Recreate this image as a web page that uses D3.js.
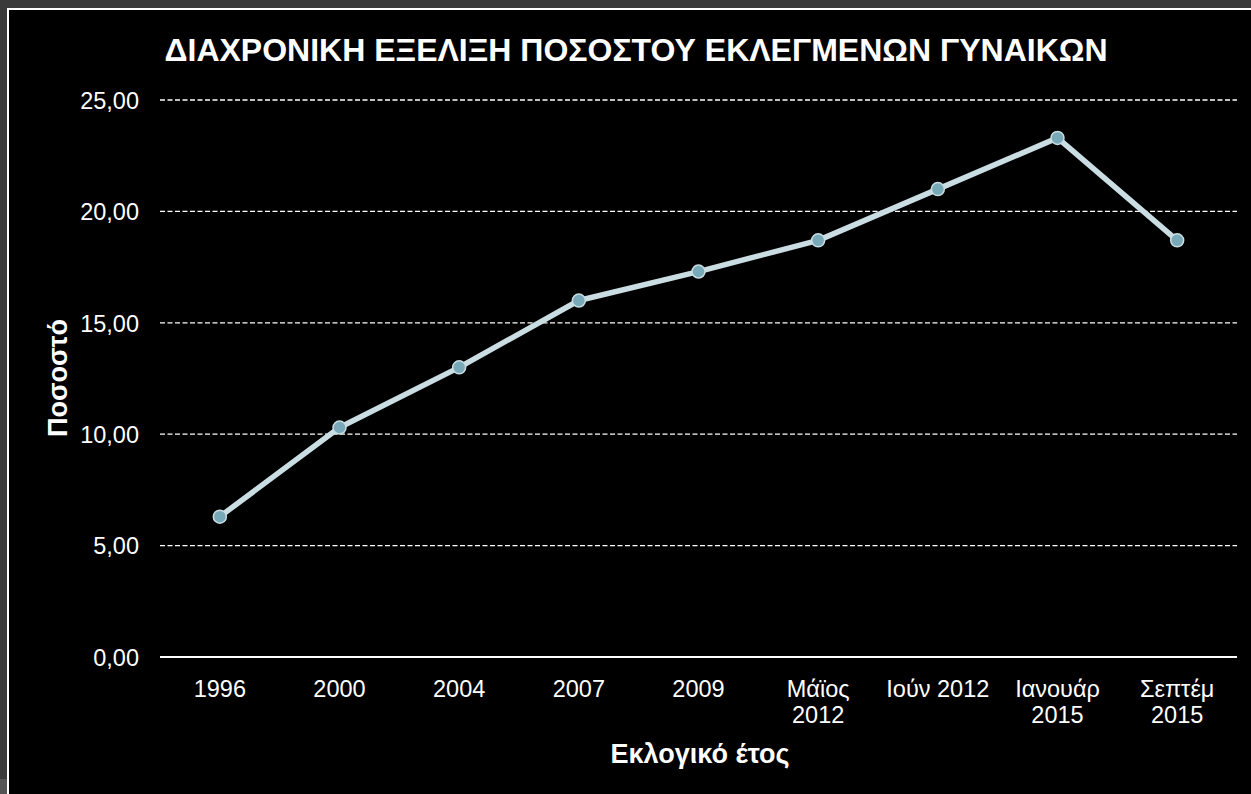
<!DOCTYPE html>
<html>
<head>
<meta charset="utf-8">
<script src="https://cdn.jsdelivr.net/npm/d3@7/dist/d3.min.js"></script>
<style>
  html, body { margin: 0; padding: 0; background: #3a3a3a; }
  svg { display: block; }
</style>
</head>
<body>
<svg id="chart" width="1251" height="794"></svg>
<script>
// Election years (labels may wrap onto two lines)
const categories = ["1996", "2000", "2004", "2007", "2009", "Μάϊος 2012", "Ιούν 2012", "Ιανουάρ 2015", "Σεπτέμ 2015"];
const categoryLines = [["1996"], ["2000"], ["2004"], ["2007"], ["2009"], ["Μάϊος", "2012"], ["Ιούν 2012"], ["Ιανουάρ", "2015"], ["Σεπτέμ", "2015"]];
// Share of elected women (%)
const values = [6.3, 10.3, 13.0, 16.0, 17.3, 18.7, 21.0, 23.3, 18.7];
const yTicks = [0, 5, 10, 15, 20, 25];

const titleText = "ΔΙΑΧΡΟΝΙΚΗ ΕΞΕΛΙΞΗ ΠΟΣΟΣΤΟΥ ΕΚΛΕΓΜΕΝΩΝ ΓΥΝΑΙΚΩΝ";
const xTitle = "Εκλογικό έτος";
const yTitle = "Ποσοστό";

const svg = d3.select("#chart");
const W = 1251, H = 794;
const font = "'Liberation Sans', Arial, sans-serif";

// outer frame: grey surround, light strip at lower left, white border, black panel
svg.append("rect").attr("x", 0).attr("y", 0).attr("width", W).attr("height", H).attr("fill", "#3a3a3a");
svg.append("rect").attr("x", 0).attr("y", 779).attr("width", 8).attr("height", 15).attr("fill", "#555");
svg.append("rect").attr("x", 7).attr("y", 8).attr("width", W).attr("height", H).attr("fill", "#fff");
svg.append("rect").attr("x", 9).attr("y", 10).attr("width", W).attr("height", H).attr("fill", "#000");

const plotLeft = 160, plotRight = 1237, plotTop = 100, plotBottom = 657;

const x = d3.scaleBand().domain(categories).range([plotLeft, plotRight]).padding(0);
const y = d3.scaleLinear().domain([0, 25]).range([plotBottom, plotTop]);
const fmt = v => d3.format(".2f")(v).replace(".", ",");
const cx = d => x(d) + x.bandwidth() / 2;

// horizontal gridlines (dashed)
svg.append("g")
  .selectAll("line")
  .data(yTicks.filter(d => d > 0))
  .join("line")
  .attr("x1", plotLeft).attr("x2", plotRight)
  .attr("y1", d => y(d)).attr("y2", d => y(d))
  .attr("stroke", "#fff").attr("stroke-width", 1.3)
  .attr("stroke-dasharray", "5,2.5");

// y axis labels
const yAxis = d3.axisLeft(y).tickValues(yTicks).tickFormat(fmt).tickSize(0).tickPadding(0);
const gy = svg.append("g").attr("transform", `translate(${plotLeft - 21},0)`).call(yAxis);
gy.select(".domain").remove();
gy.selectAll("text")
  .attr("fill", "#fff")
  .attr("font-family", font)
  .attr("font-size", 23.5)
  .attr("dy", "0.35em");

// x axis baseline
const xAxis = d3.axisBottom(x).tickSize(0).tickFormat("");
const gx = svg.append("g").attr("transform", `translate(0,${plotBottom})`).call(xAxis);
gx.select(".domain").attr("stroke", "#fff").attr("stroke-width", 2).attr("d", `M${plotLeft},0H${plotRight}`);

// category labels
const labels = svg.append("g")
  .selectAll("text")
  .data(categories)
  .join("text")
  .attr("x", d => cx(d))
  .attr("y", 697)
  .attr("text-anchor", "middle")
  .attr("fill", "#fff")
  .attr("font-family", font)
  .attr("font-size", 23.5);
labels.each(function(d, i) {
  const t = d3.select(this);
  categoryLines[i].forEach((ln, j) => {
    t.append("tspan")
      .attr("x", cx(d))
      .attr("dy", j === 0 ? 0 : 26)
      .text(ln);
  });
});

// series line
const line = d3.line()
  .x((d, i) => cx(categories[i]))
  .y(d => y(d));
svg.append("path")
  .datum(values)
  .attr("d", line)
  .attr("fill", "none")
  .attr("stroke", "#c9dde2")
  .attr("stroke-width", 5.5)
  .attr("stroke-linejoin", "round");

// markers
svg.append("g")
  .selectAll("circle")
  .data(values)
  .join("circle")
  .attr("cx", (d, i) => cx(categories[i]))
  .attr("cy", d => y(d))
  .attr("r", 6.5)
  .attr("fill", "#78a9b8")
  .attr("stroke", "#c9dde2")
  .attr("stroke-width", 1.5);

// title
svg.append("text")
  .attr("x", 636).attr("y", 61)
  .attr("text-anchor", "middle")
  .attr("fill", "#fff")
  .attr("font-family", font)
  .attr("font-weight", "bold")
  .attr("font-size", 32)
  .text(titleText);

// axis titles
svg.append("text")
  .attr("x", 700).attr("y", 763)
  .attr("text-anchor", "middle")
  .attr("fill", "#fff")
  .attr("font-family", font)
  .attr("font-weight", "bold")
  .attr("font-size", 27)
  .text(xTitle);

svg.append("text")
  .attr("transform", "translate(67,378) rotate(-90)")
  .attr("text-anchor", "middle")
  .attr("fill", "#fff")
  .attr("font-family", font)
  .attr("font-weight", "bold")
  .attr("font-size", 27)
  .text(yTitle);
</script>
</body>
</html>
